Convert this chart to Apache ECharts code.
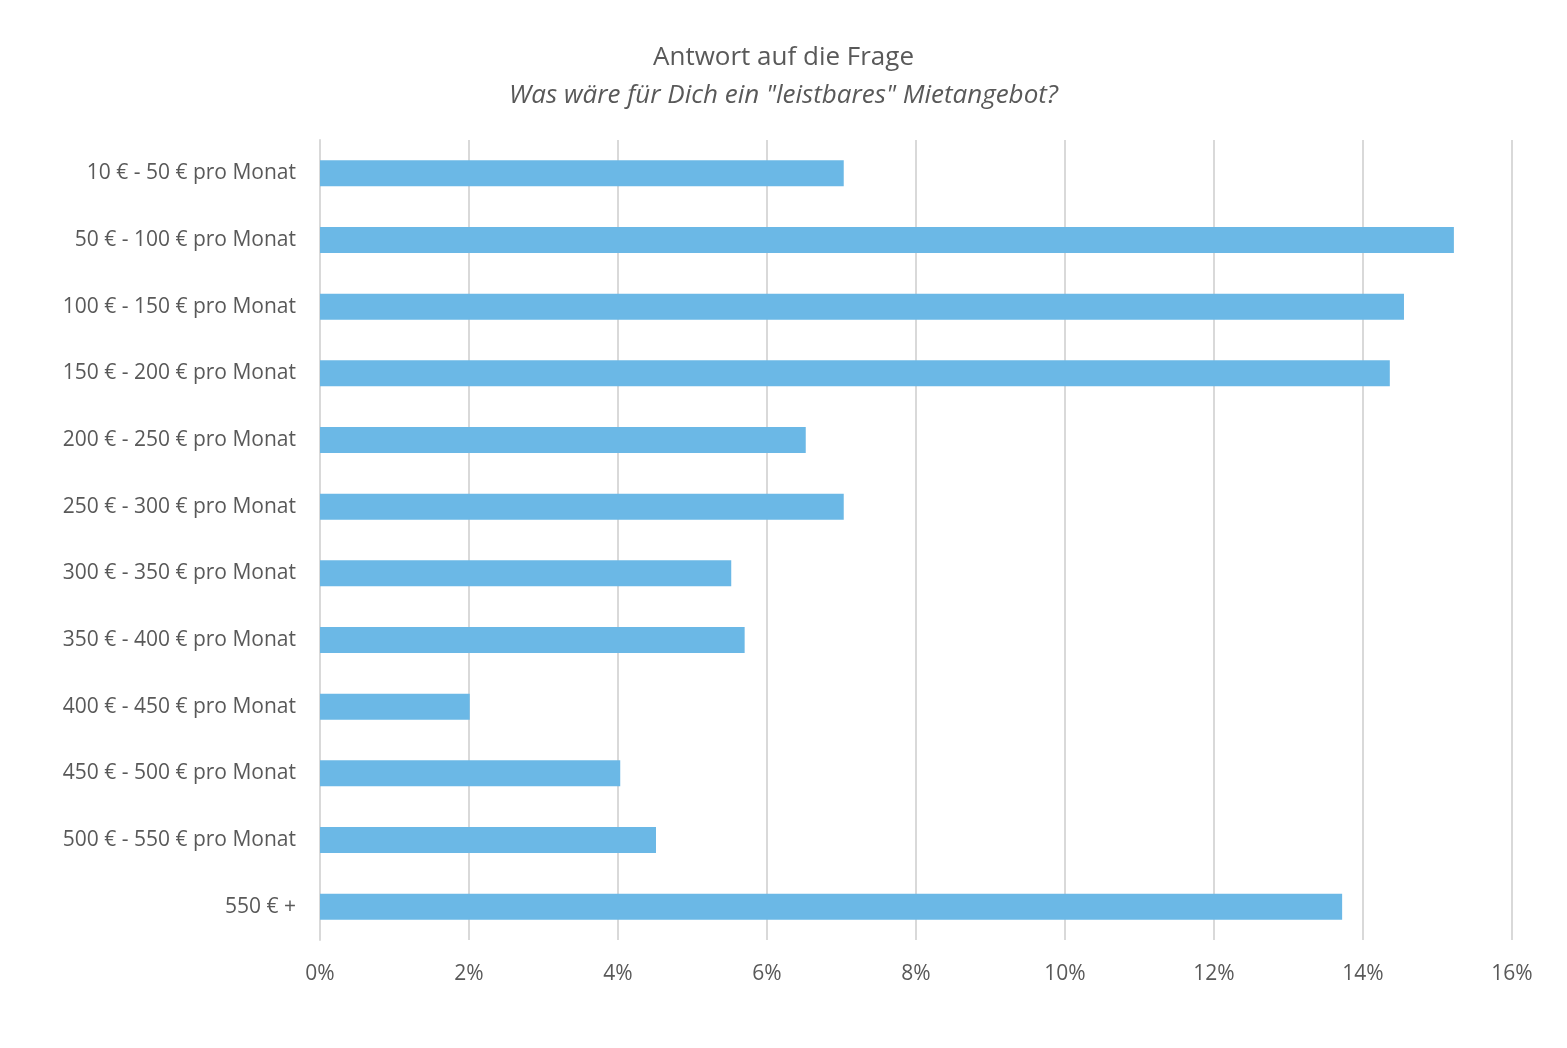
<!DOCTYPE html>
<html>
<head>
<meta charset="utf-8">
<script src="https://cdn.jsdelivr.net/npm/echarts@6/dist/echarts.min.js"></script>
<style>html,body{margin:0;padding:0;background:#fff}#main{width:1567px;height:1048px}</style>
</head>
<body>
<div id="main"></div>
<script>
var categories = ['10 € - 50 € pro Monat', '50 € - 100 € pro Monat', '100 € - 150 € pro Monat',
    '150 € - 200 € pro Monat', '200 € - 250 € pro Monat', '250 € - 300 € pro Monat',
    '300 € - 350 € pro Monat', '350 € - 400 € pro Monat', '400 € - 450 € pro Monat',
    '450 € - 500 € pro Monat', '500 € - 550 € pro Monat', '550 € +'];
var shares = [7.03, 15.22, 14.55, 14.36, 6.52, 7.03, 5.52, 5.70, 2.01, 4.03, 4.51, 13.72];

var chart = echarts.init(document.getElementById('main'));
var font = 'Open Sans';
chart.setOption({
    animation: false,
    title: {
        text: 'Antwort auf die Frage',
        subtext: 'Was wäre für Dich ein "leistbares" Mietangebot?',
        left: 'center', top: 40,
        textStyle: {fontFamily: font, fontSize: 26, fontWeight: 'normal', color: '#595959'},
        subtextStyle: {fontFamily: font, fontSize: 26, fontStyle: 'italic', color: '#595959'},
        itemGap: 12
    },
    grid: {left: 320, right: 55, top: 140, bottom: 108},
    xAxis: {
        type: 'value', min: 0, max: 16, interval: 2,
        axisLabel: {formatter: '{value}%', fontFamily: font, fontSize: 21, color: '#595959', margin: 24},
        splitLine: {lineStyle: {color: '#d9d9d9', width: 2}},
        axisLine: {show: false}, axisTick: {show: false}
    },
    yAxis: {
        type: 'category', data: categories, inverse: true,
        axisLabel: {fontFamily: font, fontSize: 21, color: '#595959', margin: 24},
        axisLine: {lineStyle: {color: '#d9d9d9', width: 2}},
        axisTick: {show: false}
    },
    series: [{
        type: 'bar', data: shares, barWidth: 26,
        itemStyle: {color: '#6bb8e6'}
    }]
});
</script>
</body>
</html>
